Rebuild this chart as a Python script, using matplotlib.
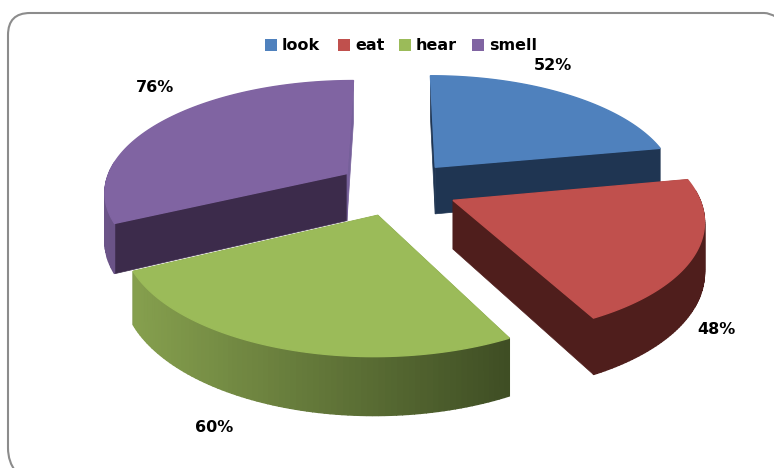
import matplotlib
matplotlib.use("Agg")
import matplotlib.pyplot as plt
from matplotlib.colors import to_rgb
from matplotlib.patches import Rectangle
from matplotlib.path import Path
from matplotlib.patches import PathPatch
import numpy as np

labels = ["look", "eat", "hear", "smell"]
values = [52, 48, 60, 76]

top_colors = ["#4F81BD", "#C0504D", "#9BBB59", "#8064A2"]
start_face = ["#1F3552", "#4F1E1C", "#3F4E24", "#3C2B4B"]
end_face = ["#1F3552", "#4F1E1C", "#3F4E24", "#76609A"]
wall_from = ["#1F3552", "#4F1E1C", "#86A04E", "#6B5488"]
wall_to = ["#1F3552", "#4F1E1C", "#3F4E24", "#4A3566"]

# pie layout, in pixels of the picture
cx, cy = 397.5, 188
rx, ry = 243, 111
persp = 0.15
explode = 0.25
depth = 48

label_pos = [(553, 66), (716, 330), (214, 428), (155, 88)]
legend_box_x = [265, 338, 399, 472]
legend_text_x = [282, 355, 416, 489]


def project(x, y, z=0.0):
    s = 1 / (1 + persp * y)
    return cx + rx * x * s, cy - ry * y * s + z * s


def draw_slice(ax, a0, a1, i):
    mid = (a0 + a1) / 2
    ox, oy = explode * np.sin(mid), explode * np.cos(mid)
    t = np.linspace(a0, a1, 80)
    x = ox + np.sin(t)
    y = oy + np.cos(t)
    tx, ty = project(x, y)
    bx, by = project(x, y, depth)
    ax0, ay0 = project(ox, oy)
    ax1, ay1 = project(ox, oy, depth)

    # radial faces
    ax.fill([ax0, tx[0], bx[0], ax1], [ay0, ty[0], by[0], ay1], color=start_face[i], lw=0.5)
    ax.fill([ax0, tx[-1], bx[-1], ax1], [ay0, ty[-1], by[-1], ay1], color=end_face[i], lw=0.5)

    # outer wall, in strips for the shading, back of the rim is hidden
    c0 = np.array(to_rgb(wall_from[i]))
    c1 = np.array(to_rgb(wall_to[i]))
    for k in range(len(t) - 1):
        if np.cos(t[k]) > 0.1:
            continue
        f = (tx[k] - tx.min()) / (tx.max() - tx.min())
        col = c0 + (c1 - c0) * f
        ax.fill([tx[k], tx[k + 1], bx[k + 1], bx[k]],
                [ty[k], ty[k + 1], by[k + 1], by[k]], color=col, lw=1.0)

    ax.fill(np.r_[ax0, tx], np.r_[ay0, ty], color=top_colors[i], lw=1.0)


fig = plt.figure(figsize=(7.74, 4.68), dpi=100)
ax = fig.add_axes([0, 0, 1, 1])
ax.set_xlim(0, 774)
ax.set_ylim(468, 0)
ax.axis("off")

# frame: only the left and top sides are in the picture
frame = Path([(16, 472), (8, 462), (8, 448), (8, 35), (8, 13), (30, 13), (764, 13), (770, 13), (776, 17)],
             [Path.MOVETO, Path.CURVE3, Path.CURVE3, Path.LINETO, Path.CURVE3, Path.CURVE3, Path.LINETO,
              Path.CURVE3, Path.CURVE3])
ax.add_patch(PathPatch(frame, fc="none", ec="#8C8C8C", lw=1.5))

edges = np.r_[0, np.cumsum(values)] / sum(values) * 2 * np.pi

# back slices first
for i in [3, 0, 2, 1]:
    draw_slice(ax, edges[i], edges[i + 1], i)

for i, name in enumerate(labels):
    ax.add_patch(Rectangle((legend_box_x[i], 39), 12, 12, fc=top_colors[i], ec="none"))
    ax.text(legend_text_x[i], 45, name, fontsize=11.5, fontweight="bold", va="center", ha="left")

for i, v in enumerate(values):
    ax.text(label_pos[i][0], label_pos[i][1], f"{v}%", fontsize=11.5, fontweight="bold",
            va="center", ha="center")

fig.savefig("out.png", dpi=100)
